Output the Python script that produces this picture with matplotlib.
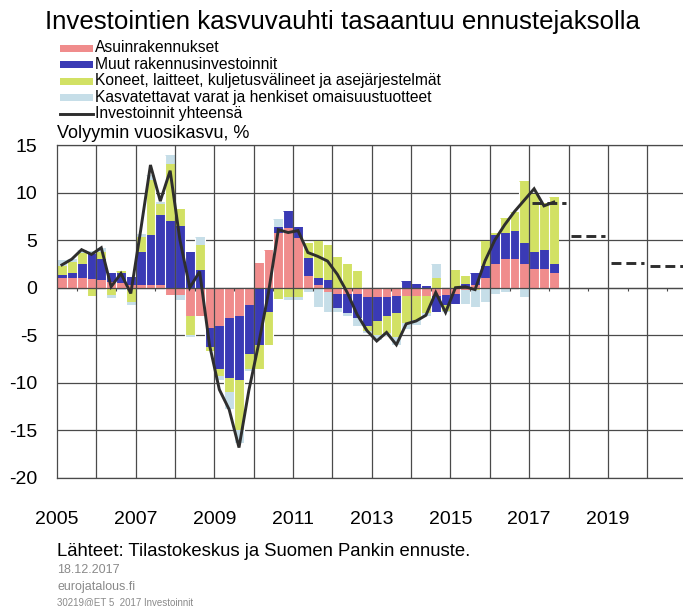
import matplotlib
matplotlib.use('Agg')
import matplotlib.pyplot as plt
from matplotlib import font_manager
from matplotlib.patches import Rectangle
from matplotlib.lines import Line2D
import numpy as np

# ---------------- data (quarterly, 2005Q1 .. 2017Q3) ----------------
start_year = 2005
asuin = [1.0, 1.0, 1.0, 0.9, 0.8, 0.6, 0.5, 0.3,
         0.3, 0.3, 0.3, -0.8, -0.8, -3.0, -3.0, -4.2,
         -4.0, -3.2, -3.0, -1.8, 2.6, 4.0, 5.8, 6.3,
         5.2, 1.2, 0.3, -0.5, -0.7, -0.7, -0.7, -1.0,
         -1.0, -1.0, -0.9, -0.9, -0.9, -0.9, -0.9, -0.8,
         -0.7, -0.2, 0.3, 1.0, 2.5, 3.0, 3.0, 2.5,
         2.0, 2.0, 1.5]
muut = [0.3, 0.5, 1.5, 2.6, 2.2, 0.9, 1.0, 0.8,
        3.5, 5.2, 7.3, 7.0, 6.5, 3.8, 1.9, -2.0,
        -4.5, -6.3, -6.7, -5.2, -6.0, -2.5, 0.6, 1.8,
        1.2, 1.9, 0.7, 0.8, -1.4, -2.0, -2.5, -3.0,
        -2.5, -2.0, -1.8, 0.7, 0.4, 0.2, -1.6, -1.0,
        -1.0, 0.4, 1.2, 1.3, 3.0, 2.8, 3.0, 2.2,
        1.8, 2.0, 1.0]
koneet = [1.0, 1.2, 1.2, -0.9, 0.8, -0.8, 0.3, -1.5,
          1.5, 5.8, 1.2, 6.0, 1.8, -2.0, 2.6, -0.5,
          -0.8, -1.5, -5.3, -1.5, -2.5, -3.5, -1.2, -1.0,
          -1.0, 1.6, 3.9, 3.7, 3.2, 2.5, 1.8, -0.5,
          -1.5, -1.8, -2.5, -2.8, -2.5, -1.8, 1.0, -0.6,
          1.9, 0.8, -0.2, 2.6, 0.2, 1.5, 2.0, 6.5,
          6.0, 4.9, 7.0]
kasvat = [0.6, 0.3, 0.3, 0.4, 0.4, -0.3, -0.2, -0.3,
          0.3, 0.5, 0.2, 1.0, -0.5, -0.2, 0.8, 0.0,
          -0.4, -1.8, -1.3, -0.3, 0.0, 0.0, 0.8, -0.3,
          -0.3, -0.5, -2.0, -2.0, -0.5, -0.3, -0.8, -0.3,
          -0.5, -0.3, -0.8, -0.6, -0.5, -0.3, 1.5, -0.2,
          0.0, -1.5, -1.8, -1.5, -0.7, -0.5, 0.0, -1.0,
          0.0, 0.0, 0.0]
yhteensa = [2.4, 3.0, 4.0, 3.5, 4.2, 0.1, 1.5, -0.6,
            6.0, 12.9, 9.1, 12.3, 5.0, 0.0, 1.7, -6.0,
            -10.7, -12.8, -16.8, -10.8, -5.9, -0.5, 6.1, 5.8,
            6.0, 3.7, 3.3, 2.8, 1.4, -0.5, -2.8, -4.5,
            -5.6, -4.7, -6.0, -3.8, -3.5, -2.9, -0.5, -2.6,
            0.0, 0.1, -0.2, 2.8, 5.0, 6.6, 8.0, 9.2,
            10.4, 8.6, 9.0]
ennuste_vuodet = [2017, 2018, 2019, 2020]
ennuste = [8.9, 5.4, 2.6, 2.3]

labels = ['Asuinrakennukset', 'Muut rakennusinvestoinnit',
          'Koneet, laitteet, kuljetusvälineet ja asejärjestelmät',
          'Kasvatettavat varat ja henkiset omaisuustuotteet',
          'Investoinnit yhteensä']
year_ticks = [2005, 2007, 2009, 2011, 2013, 2015, 2017, 2019]
y_ticks = [-20, -15, -10, -5, 0, 5, 10, 15]

# ---------------- style ----------------
colors = ['#F08C8C', '#3A3AB5', '#D2E164', '#C6DEE8']
line_color = '#2E2E2E'
grid_color = '#4A4A4A'

W, H = 683, 606
names = {f.name for f in font_manager.fontManager.ttflist}
REG = 'Liberation Sans' if 'Liberation Sans' in names else 'DejaVu Sans'
NARROW = 'Liberation Sans Narrow' if 'Liberation Sans Narrow' in names else REG
plt.rcParams['font.family'] = [REG, 'DejaVu Sans']

fig = plt.figure(figsize=(W / 100, H / 100), dpi=100)


def fx(px):
    return px / W


def fy(py):
    return 1 - py / H


ax = fig.add_axes([fx(57), fy(478), fx(683) - fx(57), fy(145) - fy(478)])
x_right = start_year + (683 - 57) / 39.35
ax.set_xlim(start_year, x_right)
ax.set_ylim(-20, 15)

n = len(yhteensa)
xq = start_year + (np.arange(n) + 0.5) / 4.0
pos_bottom = np.zeros(n)
neg_bottom = np.zeros(n)
for vals, c in zip([asuin, muut, koneet, kasvat], colors):
    v = np.array(vals, dtype=float)
    pos = np.where(v > 0, v, 0.0)
    neg = np.where(v < 0, v, 0.0)
    ax.bar(xq, pos, width=0.25, bottom=pos_bottom, color=c, linewidth=0, zorder=2)
    ax.bar(xq, neg, width=0.25, bottom=neg_bottom, color=c, linewidth=0, zorder=2)
    pos_bottom += pos
    neg_bottom += neg

# thin white separators between the quarterly bars
edges = start_year + np.arange(n + 1) / 4.0
tops = np.maximum(np.r_[pos_bottom, 0], np.r_[0, pos_bottom])
bots = np.minimum(np.r_[neg_bottom, 0], np.r_[0, neg_bottom])
ax.vlines(edges[1:-1], bots[1:-1], tops[1:-1], colors='white', linewidth=0.8, zorder=2.2)

# grid
ax.set_yticks(y_ticks)
ax.set_xticks(year_ticks)
ax.set_axisbelow(True)
ax.grid(axis='y', color=grid_color, linewidth=0.9)
for yr in range(start_year + 1, 2021):
    ax.axvline(yr, color=grid_color, linewidth=0.9, zorder=2.5)
ax.axhline(0, color=grid_color, linewidth=0.9, zorder=2.5)
ax.vlines(np.arange(start_year, 2021) + 0.5, -0.35, 0, colors=grid_color, linewidth=0.8, zorder=2.5)

# total line and forecast
ax.plot(xq, yhteensa, color=line_color, linewidth=2.1, zorder=4, solid_joinstyle='miter')
for yr, val in zip(ennuste_vuodet, ennuste):
    ax.hlines(val, yr + 0.07, yr + 0.93, colors=line_color, linewidth=2.1,
              linestyles=(0, (3.4, 1.7)), zorder=4)

for s in ['right']:
    ax.spines[s].set_visible(False)
for s in ['left', 'top', 'bottom']:
    ax.spines[s].set_color(grid_color)
    ax.spines[s].set_linewidth(0.9)
ax.tick_params(axis='both', length=0, labelsize=14, colors='black')
ax.tick_params(axis='x', pad=24)
ax.tick_params(axis='y', pad=14)
ax.set_xticklabels([str(y) for y in year_ticks])
ax.set_yticklabels([str(v) for v in y_ticks])

# ---------------- texts ----------------
renderer = fig.canvas.get_renderer()


def fit(t, target):
    w = t.get_window_extent(renderer).width
    t.set_fontsize(t.get_fontsize() * target / w)


title = fig.text(fx(45), fy(22), 'Investointien kasvuvauhti tasaantuu ennustejaksolla',
                 fontsize=22, family=[NARROW, 'DejaVu Sans'], va='center', ha='left')
fit(title, 593)

rows = [48, 64.5, 81, 97.5, 114]
leg_texts = []
for i, (lab, ry) in enumerate(zip(labels, rows)):
    if i < 4:
        fig.patches.append(Rectangle((fx(60), fy(ry + 3.5)), fx(93) - fx(60), 7 / H,
                                     transform=fig.transFigure, facecolor=colors[i],
                                     edgecolor='none'))
    else:
        fig.lines.append(Line2D([fx(60), fx(93)], [fy(ry), fy(ry)], transform=fig.transFigure,
                                color=line_color, linewidth=2.1))
    t = fig.text(fx(95), fy(ry), lab, fontsize=13, family=[NARROW, 'DejaVu Sans'],
                 va='center', ha='left')
    leg_texts.append(t)
w_long = leg_texts[2].get_window_extent(renderer).width
size = leg_texts[2].get_fontsize() * 345 / w_long
for t in leg_texts:
    t.set_fontsize(size)

fig.text(fx(57), fy(134), 'Volyymin vuosikasvu, %', fontsize=13, va='center', ha='left')
src = fig.text(fx(57), fy(551), 'Lähteet: Tilastokeskus ja Suomen Pankin ennuste.',
               fontsize=13, va='center', ha='left')
fit(src, 413)
fig.text(fx(57), fy(570), '18.12.2017', fontsize=9, color='#8A8A8A', va='center', ha='left')
fig.text(fx(57), fy(587), 'eurojatalous.fi', fontsize=9, color='#8A8A8A', va='center', ha='left')
fig.text(fx(57), fy(602), '30219@ET 5  2017 Investoinnit', fontsize=7, color='#8A8A8A',
         va='center', ha='left')

fig.savefig('out.png', dpi=100)
